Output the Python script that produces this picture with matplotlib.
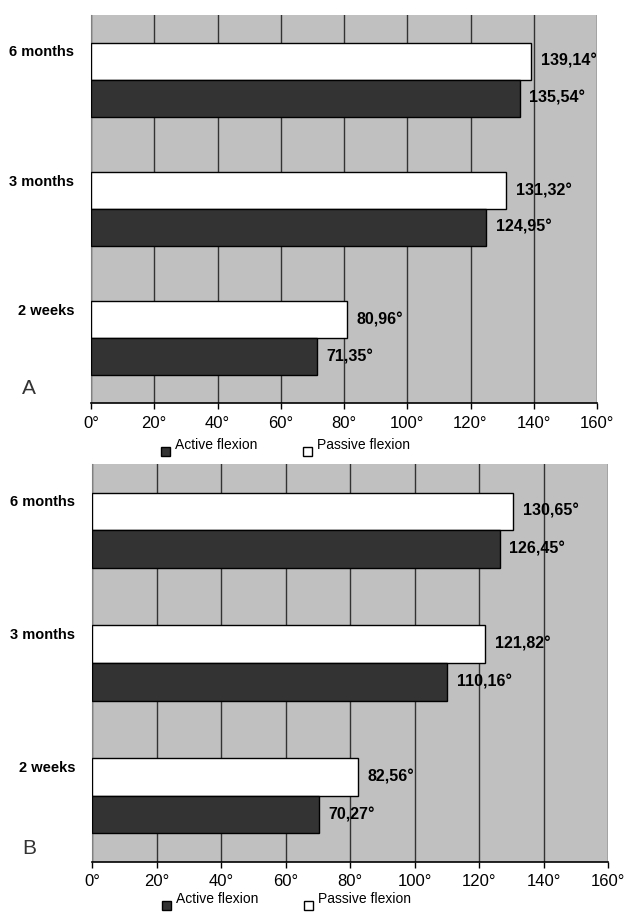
import matplotlib
matplotlib.use("Agg")
import matplotlib.pyplot as plt
from matplotlib.patches import Rectangle

# data
periods = ["2 weeks", "3 months", "6 months"]
active_a = [71.35, 124.95, 135.54]
passive_a = [80.96, 131.32, 139.14]
active_b = [70.27, 110.16, 126.45]
passive_b = [82.56, 121.82, 130.65]
ticks = [0, 20, 40, 60, 80, 100, 120, 140, 160]
tick_labels = [f"{t}°" for t in ticks]

W, H = 624, 918
SANS = ["Liberation Sans", "DejaVu Sans"]

fig = plt.figure(figsize=(W / 100, H / 100), dpi=100)


def px_axes(left, top, right, bottom):
    return fig.add_axes([left / W, 1 - bottom / H, (right - left) / W, (bottom - top) / H])


def fmt(v):
    return f"{v:.2f}".replace(".", ",") + "°"


def panel(ax, active, passive, letter, letter_y, leg_y):
    ax.set_facecolor("#c0c0c0")
    pos = list(range(len(periods)))
    h = 0.285
    up = [p + h / 2 for p in pos]
    dn = [p - h / 2 for p in pos]
    ax.barh(up, passive, height=h, color="white", edgecolor="black", linewidth=1, zorder=3)
    ax.barh(dn, active, height=h, color="#333333", edgecolor="black", linewidth=1, zorder=3)
    for y, v in zip(up, passive):
        ax.text(v + 3, y, fmt(v), va="center", ha="left", fontsize=11.5,
                fontweight="bold", family=SANS, zorder=4)
    for y, v in zip(dn, active):
        ax.text(v + 3, y, fmt(v), va="center", ha="left", fontsize=11.5,
                fontweight="bold", family=SANS, zorder=4)
    ax.set_xlim(0, 160)
    ax.set_ylim(-0.5, 2.5)
    ax.set_xticks(ticks)
    ax.set_xticklabels(tick_labels, family=SANS, fontsize=12)
    ax.set_yticks([u + 0.08 for u in up])
    ax.set_yticklabels(periods, family=SANS, fontsize=10.5, fontweight="bold")
    ax.tick_params(axis="y", length=0, pad=12)
    ax.tick_params(axis="x", length=4, width=1, pad=5, color="black")
    ax.grid(axis="x", color="#333333", linewidth=1, zorder=1)
    ax.set_axisbelow(True)
    for s in ["top", "right"]:
        ax.spines[s].set_visible(False)
    ax.spines["left"].set_color("#808080")
    ax.spines["bottom"].set_color("black")
    ax.spines["bottom"].set_linewidth(1.2)

    fig.text(22 / W, 1 - letter_y / H, letter, family=SANS, fontsize=15,
             color="#333333", va="center", ha="left", fontweight="light")
    # legend
    x0 = ax.get_position().x0 * W
    for dx, col, lab in [(70, "#333333", "Active flexion"), (212, "white", "Passive flexion")]:
        fig.patches.append(Rectangle(((x0 + dx) / W, 1 - (leg_y + 11) / H), 9 / W, 9 / H,
                                     transform=fig.transFigure, facecolor=col,
                                     edgecolor="black", linewidth=1))
        fig.text((x0 + dx + 14) / W, 1 - leg_y / H, lab, family=SANS, fontsize=10,
                 va="center", ha="left")


ax_a = px_axes(91, 15, 597, 403)
panel(ax_a, active_a, passive_a, "A", 389, 445)

ax_b = px_axes(92, 464, 608, 862)
panel(ax_b, active_b, passive_b, "B", 849, 899)

fig.savefig("out.png", dpi=100)
